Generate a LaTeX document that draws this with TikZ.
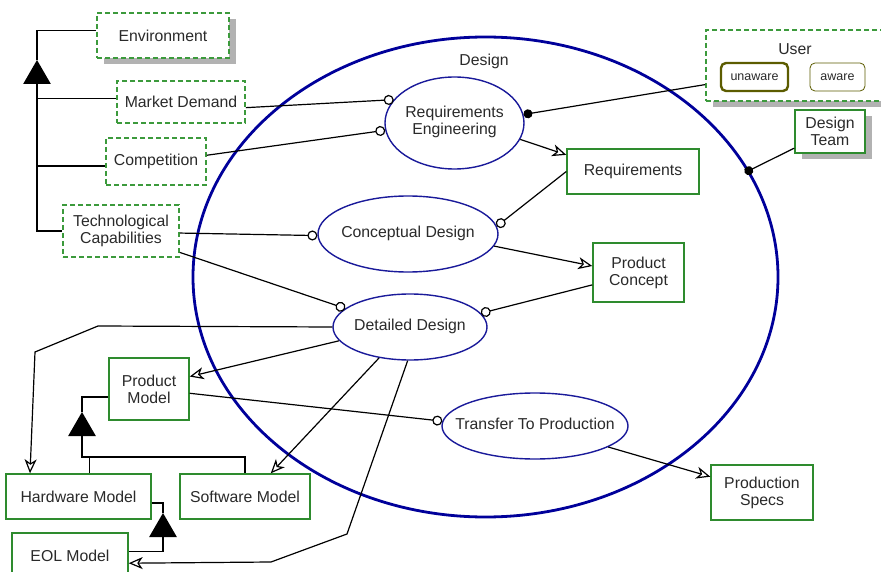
\documentclass[tikz,border=0pt]{standalone}
\usepackage{fontspec}
\setmainfont{Liberation Sans}
\usetikzlibrary{shapes.geometric,arrows.meta,shadows}
\definecolor{objgreen}{HTML}{2E8B2E}
\definecolor{envgreen}{HTML}{3C9A3C}
\definecolor{procblue}{HTML}{1A1A9A}
\definecolor{designblue}{HTML}{00009A}
\definecolor{stateolive}{HTML}{5C5C00}
\definecolor{txtgray}{HTML}{2A2A2A}
\newcommand\ctext[1]{\makebox[0pt]{\begin{tabular}{@{}c@{}}#1\end{tabular}}}

\begin{document}
\begin{tikzpicture}[x=1pt,y=1pt,
  every node/.style={font=\fontsize{15.8}{17}\selectfont, text=txtgray},
  object/.style={rectangle, draw=objgreen, line width=1.4pt, fill=white, inner sep=0pt, align=center},
  envobject/.style={object, draw=envgreen, line width=1.6pt, dash pattern=on 5pt off 3pt},
  shadowed/.style={drop shadow={shadow xshift=7pt, shadow yshift=-6pt, fill=gray!60, opacity=1}},
  process/.style={ellipse, draw=procblue, line width=1.4pt, fill=white, inner sep=0pt},
  state/.style={rectangle, rounded corners=5pt, draw=stateolive, fill=white, inner sep=0pt, font=\fontsize{12.5}{14}\selectfont},
  link/.style={draw=black, line width=1.2pt},
  result/.style={link, -{Stealth[open, fill=white, length=14pt, width=12pt, inset=4pt]}},
  instrument/.style={link, -{Circle[open, fill=white, length=10pt]}},
  agent/.style={link, -{Circle[length=9pt]}},
  struct/.style={regular polygon, regular polygon sides=3, fill=black, inner sep=0pt, minimum size=32pt}]
\useasboundingbox (0,0) rectangle (881,-572);

%%%%%%%%% design
\node[ellipse, draw=designblue, line width=2.8pt, inner sep=0pt, minimum width=585pt, minimum height=480pt] (design) at (485.5,-277) {};
\node (designlbl) at (484,-61) {Design};

%%%%%%%%% processes
\node[process, minimum width=139pt, minimum height=92pt] (reqeng) at (454.5,-123) {\ctext{Requirements\\Engineering}};
\node[process, minimum width=180pt, minimum height=76pt] (cdesign) at (408,-234) {\ctext{Conceptual Design}};
\node[process, minimum width=154pt, minimum height=66pt] (ddesign) at (410,-327) {\ctext{Detailed Design}};
\node[process, minimum width=186pt, minimum height=66pt] (tprod) at (535,-426) {\ctext{Transfer To Production}};

%%%%%%%%% environment objects
\node[envobject, shadowed, minimum width=132pt, minimum height=45pt] (env) at (163,-35.5) {Environment};
\node[envobject, minimum width=128pt, minimum height=42pt] (market) at (181,-102) {Market Demand};
\node[envobject, minimum width=100pt, minimum height=47pt] (comp) at (156,-161.5) {Competition};
\node[envobject, minimum width=116pt, minimum height=52pt] (tech) at (121,-231) {Technological\\Capabilities};

%%%%%%%%% user with states
\node[envobject, shadowed, minimum width=178pt, minimum height=71pt] (user) at (795,-65.5) {};
\node (userlbl) at (795,-49) {User};
\node[state, line width=2.4pt, minimum width=67pt, minimum height=28pt] (unaware) at (754.5,-77) {unaware};
\node[state, line width=0.8pt, minimum width=55pt, minimum height=28pt] (aware) at (837.5,-77) {aware};

%%%%%%%%% systemic objects
\node[object, shadowed, minimum width=70pt, minimum height=43pt] (team) at (830,-131.5) {Design\\Team};
\node[object, minimum width=132pt, minimum height=45pt] (req) at (633,-171.5) {Requirements};
\node[object, minimum width=91pt, minimum height=59pt] (concept) at (638.5,-272.5) {Product\\Concept};
\node[object, minimum width=80pt, minimum height=62pt] (pmodel) at (149,-389) {Product\\Model};
\node[object, minimum width=145pt, minimum height=45pt] (hw) at (78.5,-496.5) {Hardware Model};
\node[object, minimum width=130pt, minimum height=45pt] (sw) at (245,-496.5) {Software Model};
\node[object, minimum width=116pt, minimum height=46pt] (eol) at (70,-556) {EOL Model};
\node[object, minimum width=102pt, minimum height=55pt] (specs) at (762,-492.5) {Production\\Specs};

%%%%%%%%% structure triangles
\node[struct] (gen1) at (37,-76) {};
\node[struct] (agg1) at (82,-428) {};
\node[struct] (agg2) at (163,-529) {};
\coordinate (aggbar) at (82,-457);

\draw[link] (env.176) -| (gen1.corner 1);
\draw[link] (gen1.side 2) |- (tech.west);
\draw[link] (market.177) -| (gen1.side 2);
\draw[link] (comp.185) -| (gen1.side 2);

\draw[link] (pmodel.191) -| (agg1.corner 1);
\draw[link] (agg1.side 2) -- (aggbar) -| (sw.north);
\draw[link] (hw.65) |- (aggbar);
\draw[link] (hw.-5) -| (agg2.corner 1);
\draw[link] (agg2.side 2) |- (eol.4);

%%%%%%%%% procedural links
\draw[instrument] (market.-5) -- (reqeng.159);
\draw[instrument] (comp.7) -- (reqeng.186);
\draw[agent] (user.192) -- (reqeng.7);
\draw[result] (reqeng.-14) -- (req.166);
\draw[instrument] (req.west) -- (cdesign.5);
\draw[instrument] (tech.-2) -- (cdesign.181);
\draw[result] (cdesign.-8) -- (concept.172);
\draw[instrument] (tech.-20) -- (ddesign.164);
\draw[instrument] (concept.195) -- (ddesign.11);
\draw[result] (ddesign.191) -- (pmodel.17);
\draw[result] (ddesign.west) -- (98,-326) -- (35,-352) -- (30,0 |- hw.north);
\draw[result] (ddesign.225) -- (sw.42);
\draw[result] (ddesign.266) -- (347,-534) -- (271,-562) -- (eol.-7);
\draw[instrument] (pmodel.-6) -- (tprod.177);
\draw[result] (tprod.-16) -- (specs.163);
\draw[agent, shorten >=-5pt] (team.205) -- (design.22);
\end{tikzpicture}
\end{document}
